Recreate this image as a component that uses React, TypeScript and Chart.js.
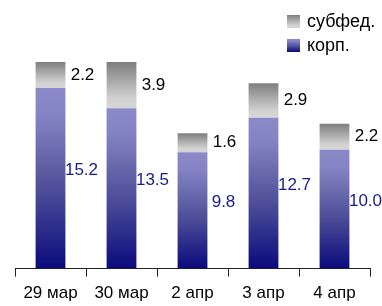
import React, { useEffect, useRef } from "react";
import { Chart, registerables } from "chart.js";

Chart.register(...registerables);

const categories = ["29 мар", "30 мар", "2 апр", "3 апр", "4 апр"];
const corpValues = [15.2, 13.5, 9.8, 12.7, 10.0];
const subfedValues = [2.2, 3.9, 1.6, 2.9, 2.2];
const seriesNames = ["корп.", "субфед."];

const FONT = "'Liberation Sans', Arial, sans-serif";

function corpGradient(ctx: CanvasRenderingContext2D, top: number, bottom: number) {
  const g = ctx.createLinearGradient(0, top, 0, bottom);
  g.addColorStop(0, "#8a8ac8");
  g.addColorStop(0.15, "#8484c4");
  g.addColorStop(0.55, "#50509a");
  g.addColorStop(1, "#0a0a7c");
  return g;
}

function subGradient(ctx: CanvasRenderingContext2D, top: number, bottom: number) {
  const g = ctx.createLinearGradient(0, top, 0, bottom);
  g.addColorStop(0, "#7e7e7e");
  g.addColorStop(0.8, "#d2d2d2");
  g.addColorStop(1, "#d6d6d6");
  return g;
}

const labelPlugin = {
  id: "labelsAndLegend",
  afterDatasetsDraw(chart: any) {
    const ctx: CanvasRenderingContext2D = chart.ctx;
    const m0 = chart.getDatasetMeta(0).data;
    const m1 = chart.getDatasetMeta(1).data;
    ctx.save();
    ctx.font = `17px ${FONT}`;
    ctx.textAlign = "center";
    ctx.textBaseline = "middle";
    for (let i = 0; i < categories.length; i++) {
      const b0 = m0[i];
      const b1 = m1[i];
      ctx.fillStyle = "#1a1a8a";
      ctx.fillText(corpValues[i].toFixed(1), b0.x + 31, (b0.y + b0.base) / 2 - 8);
      ctx.fillStyle = "#000";
      ctx.fillText(subfedValues[i].toFixed(1), b1.x + 32, (b1.y + b1.base) / 2);
    }
    // legend
    const lx = 287;
    const size = 13;
    const rows = [
      { y: 15, name: seriesNames[1], grad: subGradient(ctx, 15, 15 + size) },
      { y: 39, name: seriesNames[0], grad: corpGradient(ctx, 39, 39 + size) },
    ];
    ctx.font = `18px ${FONT}`;
    ctx.textAlign = "left";
    for (const r of rows) {
      ctx.fillStyle = r.grad;
      ctx.fillRect(lx, r.y, size, size);
      ctx.fillStyle = "#000";
      ctx.fillText(r.name, 307, r.y + size / 2 + 0.5);
    }
    ctx.restore();
  },
};

export default function App() {
  const ref = useRef<HTMLCanvasElement>(null);
  useEffect(() => {
    document.body.style.margin = "0";
    const canvas = ref.current!;
    const chart = new Chart(canvas, {
      type: "bar",
      data: {
        labels: categories,
        datasets: [
          {
            label: seriesNames[0],
            data: corpValues,
            backgroundColor: (c: any) => {
              const ch = c.chart;
              if (!ch.chartArea || c.type !== "data") return "#5555a0";
              const y = ch.scales.y;
              return corpGradient(ch.ctx, y.getPixelForValue(corpValues[c.dataIndex]), y.getPixelForValue(0));
            },
            borderWidth: 0,
            barPercentage: 0.42,
            categoryPercentage: 1,
          },
          {
            label: seriesNames[1],
            data: subfedValues,
            backgroundColor: (c: any) => {
              const ch = c.chart;
              if (!ch.chartArea || c.type !== "data") return "#aaaaaa";
              const y = ch.scales.y;
              const i = c.dataIndex;
              return subGradient(ch.ctx, y.getPixelForValue(corpValues[i] + subfedValues[i]), y.getPixelForValue(corpValues[i]));
            },
            borderWidth: 0,
            barPercentage: 0.42,
            categoryPercentage: 1,
          },
        ],
      },
      options: {
        animation: false,
        responsive: false,
        layout: { padding: { left: 15, right: 12, top: 31, bottom: -5 } },
        plugins: { legend: { display: false }, tooltip: { enabled: false } },
        scales: {
          x: {
            stacked: true,
            grid: {
              display: true,
              drawOnChartArea: false,
              drawTicks: true,
              tickLength: 8,
              color: "#222",
              offset: true,
            },
            border: { display: true, color: "#222", width: 1 },
            ticks: {
              color: "#000",
              padding: 7,
              font: { family: FONT, size: 17 },
            },
          },
          y: {
            stacked: true,
            display: false,
            min: 0,
            max: 20,
          },
        },
      },
      plugins: [labelPlugin],
    });
    return () => chart.destroy();
  }, []);
  return (
    <div style={{ width: 382, height: 306 }}>
      <canvas ref={ref} width={382} height={306} style={{ display: "block" }} />
    </div>
  );
}
